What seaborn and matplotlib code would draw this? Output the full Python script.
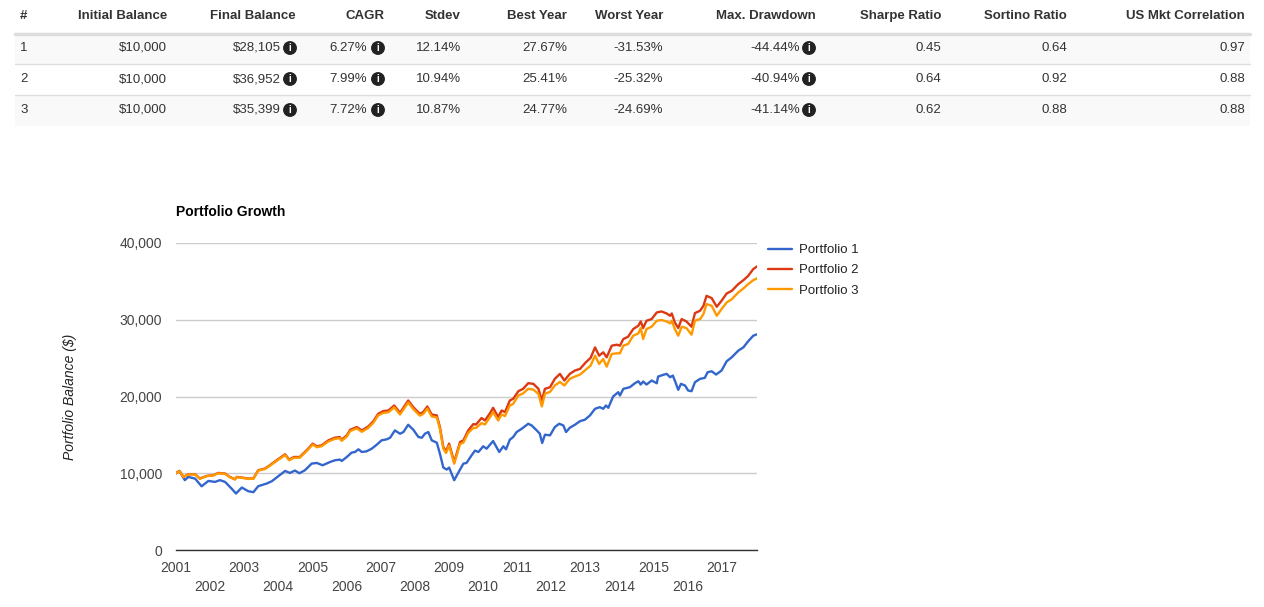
import matplotlib
matplotlib.use("Agg")
import matplotlib.pyplot as plt
import seaborn as sns
import pandas as pd
from matplotlib.patches import Rectangle
from matplotlib.lines import Line2D

# ---- table data ----
headers = ["#", "Initial Balance", "Final Balance", "CAGR", "Stdev", "Best Year",
           "Worst Year", "Max. Drawdown", "Sharpe Ratio", "Sortino Ratio", "US Mkt Correlation"]
row_ids = ["1", "2", "3"]
initial_balance = ["$10,000", "$10,000", "$10,000"]
final_balance = ["$28,105", "$36,952", "$35,399"]
cagr = ["6.27%", "7.99%", "7.72%"]
stdev = ["12.14%", "10.94%", "10.87%"]
best_year = ["27.67%", "25.41%", "24.77%"]
worst_year = ["-31.53%", "-25.32%", "-24.69%"]
max_drawdown = ["-44.44%", "-40.94%", "-41.14%"]
sharpe = ["0.45", "0.64", "0.62"]
sortino = ["0.64", "0.92", "0.88"]
us_corr = ["0.97", "0.88", "0.88"]

# ---- portfolio growth data (decimal year, balance) ----
p1_year = [2001.00, 2001.10, 2001.26, 2001.36, 2001.56, 2001.75, 2001.95, 2002.14, 2002.29, 2002.44,
           2002.63, 2002.76, 2002.93, 2003.12, 2003.27, 2003.41, 2003.66, 2003.81, 2004.00, 2004.20,
           2004.34, 2004.49, 2004.62, 2004.78, 2004.98, 2005.13, 2005.30, 2005.52, 2005.66, 2005.81,
           2005.86, 2006.01, 2006.15, 2006.25, 2006.35, 2006.45, 2006.59, 2006.74, 2006.89, 2007.03,
           2007.18, 2007.28, 2007.42, 2007.57, 2007.67, 2007.81, 2007.96, 2008.11, 2008.21, 2008.30,
           2008.40, 2008.50, 2008.65, 2008.74, 2008.84, 2008.94, 2009.01, 2009.16, 2009.33, 2009.43,
           2009.52, 2009.67, 2009.77, 2009.87, 2010.01, 2010.11, 2010.30, 2010.48, 2010.60, 2010.68,
           2010.79, 2010.89, 2010.99, 2011.14, 2011.33, 2011.43, 2011.58, 2011.67, 2011.74, 2011.82,
           2011.97, 2012.11, 2012.24, 2012.36, 2012.44, 2012.55, 2012.70, 2012.85, 2012.99, 2013.14,
           2013.29, 2013.43, 2013.53, 2013.61, 2013.68, 2013.82, 2013.97, 2014.02, 2014.12, 2014.31,
           2014.46, 2014.56, 2014.63, 2014.70, 2014.80, 2014.95, 2015.10, 2015.14, 2015.29, 2015.39,
           2015.49, 2015.57, 2015.63, 2015.73, 2015.81, 2015.93, 2016.02, 2016.12, 2016.22, 2016.37,
           2016.51, 2016.59, 2016.71, 2016.84, 2017.00, 2017.15, 2017.30, 2017.49, 2017.64, 2017.78,
           2017.93, 2018.04]
p1_balance = [10000, 10300, 9100, 9520, 9300, 8300, 9000, 8870, 9100, 8870,
              8000, 7360, 8140, 7660, 7530, 8310, 8660, 8960, 9610, 10300,
              10040, 10350, 10000, 10390, 11260, 11340, 11040, 11470, 11690, 11780,
              11600, 12120, 12690, 12770, 13120, 12770, 12860, 13200, 13730, 14290,
              14420, 14630, 15580, 15150, 15370, 16320, 15670, 14720, 14630, 15150,
              15370, 14290, 13980, 12550, 10740, 10480, 10740, 9090, 10480, 11260,
              11340, 12340, 12950, 12770, 13510, 13200, 14200, 12770, 13510, 13120,
              14370, 14720, 15370, 15800, 16450, 16230, 15580, 15150, 13940, 15020,
              14940, 16020, 16450, 16230, 15370, 15930, 16320, 16790, 16970, 17530,
              18400, 18610, 18400, 18830, 18530, 20000, 20560, 20130, 21000, 21210,
              21730, 21990, 21560, 21950, 21560, 22080, 21730, 22600, 22820, 22950,
              22510, 22730, 22080, 20870, 21650, 21430, 20780, 20690, 21860, 22300,
              22430, 23160, 23290, 22860, 23380, 24590, 25110, 25970, 26400, 27190,
              27920, 28105]

p23_year = [2001.00, 2001.10, 2001.22, 2001.36, 2001.56, 2001.70, 2001.90, 2002.09, 2002.24, 2002.44,
            2002.58, 2002.73, 2002.78, 2002.93, 2003.12, 2003.27, 2003.41, 2003.61, 2003.75, 2003.95,
            2004.20, 2004.32, 2004.46, 2004.63, 2004.83, 2005.01, 2005.13, 2005.27, 2005.47, 2005.66,
            2005.80, 2005.86, 2006.01, 2006.11, 2006.30, 2006.45, 2006.64, 2006.79, 2006.93, 2007.08,
            2007.23, 2007.40, 2007.57, 2007.81, 2007.96, 2008.15, 2008.25, 2008.37, 2008.50, 2008.65,
            2008.74, 2008.84, 2008.92, 2009.01, 2009.16, 2009.33, 2009.43, 2009.57, 2009.72, 2009.80,
            2009.96, 2010.06, 2010.21, 2010.30, 2010.45, 2010.55, 2010.65, 2010.79, 2010.89, 2011.04,
            2011.18, 2011.33, 2011.48, 2011.63, 2011.73, 2011.82, 2011.97, 2012.11, 2012.26, 2012.39,
            2012.55, 2012.70, 2012.85, 2013.02, 2013.16, 2013.29, 2013.41, 2013.53, 2013.63, 2013.78,
            2013.93, 2014.02, 2014.12, 2014.26, 2014.41, 2014.56, 2014.63, 2014.70, 2014.80, 2014.95,
            2015.10, 2015.24, 2015.39, 2015.49, 2015.54, 2015.63, 2015.73, 2015.83, 2015.97, 2016.12,
            2016.22, 2016.37, 2016.47, 2016.56, 2016.71, 2016.86, 2017.00, 2017.15, 2017.30, 2017.49,
            2017.64, 2017.78, 2017.93, 2018.04]
p2_balance = [10000, 10300, 9520, 9870, 9870, 9310, 9650, 9740, 10040, 9960,
              9520, 9220, 9520, 9440, 9310, 9310, 10390, 10610, 11040, 11690,
              12470, 11780, 12120, 12120, 12990, 13860, 13510, 13640, 14290, 14630,
              14720, 14370, 14940, 15670, 16020, 15580, 16100, 16790, 17750, 18100,
              18180, 18830, 17880, 19480, 18610, 17750, 17970, 18700, 17660, 17530,
              16020, 13420, 12860, 13860, 11470, 14070, 14290, 15580, 16400, 16350,
              17190, 16880, 17830, 18530, 17320, 18180, 17970, 19480, 19700, 20690,
              21000, 21730, 21650, 21000, 19480, 21000, 21210, 22300, 22950, 22080,
              22950, 23380, 23600, 24460, 25030, 26400, 25320, 25760, 25110, 26620,
              26750, 26620, 27490, 27790, 28790, 29220, 29780, 28920, 29870, 30090,
              30950, 31080, 30820, 30520, 30820, 29650, 28920, 30090, 29780, 29090,
              30870, 31170, 31820, 33120, 32820, 31690, 32470, 33420, 33770, 34640,
              35150, 35710, 36600, 36952]
p3_balance = [10000, 10280, 9500, 9840, 9840, 9290, 9620, 9710, 10000, 9920,
              9480, 9190, 9480, 9400, 9270, 9270, 10340, 10550, 10970, 11600,
              12370, 11690, 12020, 12020, 12880, 13740, 13390, 13520, 14150, 14480,
              14570, 14220, 14780, 15500, 15840, 15400, 15910, 16590, 17530, 17870,
              17950, 18590, 17650, 19220, 18360, 17510, 17720, 18430, 17400, 17270,
              15780, 13200, 12640, 13620, 11250, 13800, 14000, 15250, 15900, 15900,
              16530, 16360, 17300, 17970, 16880, 17660, 17450, 18830, 19050, 20130,
              20400, 21000, 20900, 20350, 18700, 20350, 20600, 21430, 21900, 21430,
              22300, 22600, 22860, 23500, 24030, 25320, 24240, 24890, 23890, 25540,
              25630, 25630, 26620, 26840, 27920, 28220, 28920, 27490, 28790, 29090,
              29870, 29960, 29780, 29520, 29870, 28790, 27920, 29090, 28920, 28050,
              29870, 30090, 30740, 32040, 31820, 30520, 31390, 32250, 32680, 33550,
              34070, 34640, 35150, 35399]

portfolio_names = ["Portfolio 1", "Portfolio 2", "Portfolio 3"]
colors = ["#3366cc", "#dc3912", "#ff9900"]
year_ticks = list(range(2001, 2018))
y_ticks = [0, 10000, 20000, 30000, 40000]

sns.set_style("white")
plt.rcParams["font.family"] = ["Liberation Sans", "DejaVu Sans"]

W, H = 1264, 607
fig = plt.figure(figsize=(W / 100, H / 100), dpi=100)

# ---- table, drawn in pixel coordinates on an overlay axes ----
tax = fig.add_axes([0, 0, 1, 1])
tax.set_xlim(0, W)
tax.set_ylim(H, 0)
tax.axis("off")
tax.patch.set_alpha(0)

text_c = "#333333"
fs_tab = 9.5
col_right = [None, 167, 296, 385, 461, 567, 663, 816, 941, 1067, 1245]
row_y = [48, 79, 110]
header_y = 16

for i, y in enumerate(row_y):
    if i % 2 == 0:
        tax.add_patch(Rectangle((15, y - 15.5), 1235, 31, color="#f9f9f9", lw=0, zorder=0))
    if i > 0:
        tax.plot([15, 1250], [y - 15.5, y - 15.5], color="#dddddd", lw=1, zorder=1)
tax.plot([15, 1250], [33.5, 33.5], color="#dddddd", lw=2.5, zorder=1)

tax.text(20, header_y, headers[0], ha="left", va="center", fontsize=fs_tab,
         fontweight="bold", color=text_c)
for h, xr in zip(headers[1:], col_right[1:]):
    tax.text(xr, header_y, h, ha="right", va="center", fontsize=fs_tab,
             fontweight="bold", color=text_c)

columns = [initial_balance, final_balance, cagr, stdev, best_year, worst_year,
           max_drawdown, sharpe, sortino, us_corr]
# offset of value text end and icon centre from the column's right edge
icon_cols = {1: (15, 6), 2: (18, 7), 6: (16, 7)}
for r, y in enumerate(row_y):
    tax.text(20, y, row_ids[r], ha="left", va="center", fontsize=fs_tab, color=text_c)
    for c, (col, xr) in enumerate(zip(columns, col_right[1:])):
        if c in icon_cols:
            t_off, i_off = icon_cols[c]
            tax.text(xr - t_off, y, col[r], ha="right", va="center", fontsize=fs_tab, color=text_c)
            tax.text(xr - i_off, y, "i", ha="center", va="center", fontsize=7, color="white",
                     fontweight="bold",
                     bbox=dict(boxstyle="circle,pad=0.2", fc="#222222", ec="none"))
        else:
            tax.text(xr, y, col[r], ha="right", va="center", fontsize=fs_tab, color=text_c)

# ---- chart ----
df = pd.concat([
    pd.DataFrame({"year": p1_year, "balance": p1_balance, "portfolio": portfolio_names[0]}),
    pd.DataFrame({"year": p23_year, "balance": p2_balance, "portfolio": portfolio_names[1]}),
    pd.DataFrame({"year": p23_year, "balance": p3_balance, "portfolio": portfolio_names[2]}),
])

ax = fig.add_axes([176 / W, 1 - 550 / H, (757 - 176) / W, (550 - 243) / H])
sns.lineplot(data=df, x="year", y="balance", hue="portfolio", hue_order=portfolio_names,
             palette=colors, estimator=None, linewidth=1.7, legend=False, ax=ax)

ax.set_xlim(2001.0, 2018.04)
ax.set_ylim(0, 40000)
ax.set_yticks(y_ticks)
ax.set_yticklabels([f"{v:,}" for v in y_ticks])
ax.set_xticks(year_ticks)
ax.set_xticklabels([str(y) if (y - 2001) % 2 == 0 else "\n" + str(y) for y in year_ticks],
                   linespacing=1.4)
ax.tick_params(axis="both", length=0, labelsize=10, colors="#444444")
ax.tick_params(axis="y", pad=10)
ax.tick_params(axis="x", pad=8)
ax.grid(axis="y", color="#cccccc", lw=1)
ax.grid(axis="x", visible=False)
for s in ["top", "right", "left"]:
    ax.spines[s].set_visible(False)
ax.spines["bottom"].set_color("#333333")
ax.spines["bottom"].set_linewidth(1)
ax.set_xlabel("")
ax.set_ylabel("Portfolio Balance ($)", fontsize=10, fontstyle="italic", color="#222222")
ax.yaxis.set_label_coords((77 - 176) / 581, 0.5)

ax.text(0, 1 + 31 / 307, "Portfolio Growth", transform=ax.transAxes, ha="left", va="center",
        fontsize=10, fontweight="bold", color="#000000")

handles = [Line2D([], [], color=c, lw=1.7) for c in colors]
ax.legend(handles, portfolio_names, loc="upper left", bbox_to_anchor=(1.019, (550 - 244) / 307),
          frameon=False, fontsize=9.5, handlelength=1.8, handletextpad=0.55,
          labelspacing=0.6, borderpad=0, borderaxespad=0, labelcolor="#222222")

fig.savefig("out.png", dpi=100)
